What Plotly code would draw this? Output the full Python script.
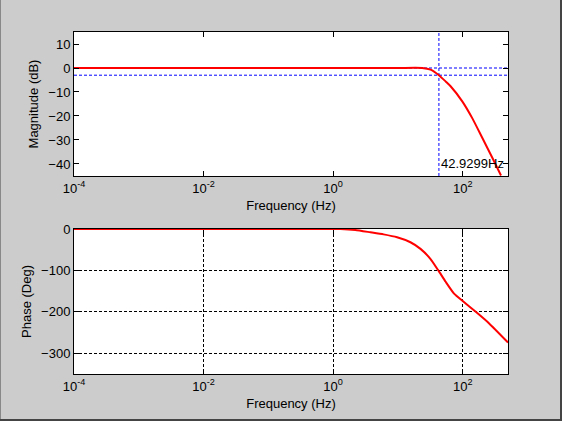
import math
import plotly.graph_objects as go

# Bode plot of the filter
cutoff_hz = 42.9299
freq_range = [1e-4, 500]

mag_freq = [1e-4, 1e-2, 1, 10, 23.7, 31.9, 42.93, 55, 65, 99, 141, 202, 289, 390]
mag_db = [0, 0, 0, 0, 0, -0.7, -3.0, -5.7, -7.6, -14.0, -21.0, -29.3, -37.6, -44.8]

phase_freq = [1e-4, 1e-2, 1, 1.3, 2.2, 3.75, 6.0, 9.7, 15.6, 22.3, 31.9, 42, 54.6, 73.5, 100,
              159, 256, 500]
phase_deg = [0, 0, 0, 0, -2.4, -8, -13, -20, -32, -48, -72.6, -100, -127.5, -156, -174,
             -200, -228, -274]

mag_ticks = [10, 0, -10, -20, -30, -40]
phase_ticks = [0, -100, -200, -300]
freq_ticks = [1e-4, 1e-2, 1, 100]
freq_labels = ['10<sup>-4</sup>', '10<sup>-2</sup>', '10<sup>0</sup>', '10<sup>2</sup>']

font = dict(family='Liberation Sans, Arial', size=13, color='black')
dash = '3px,2px'

# plot area in pixels: x 74..508, y 32..374
ml, mr, mt, mb = 74, 54, 32, 47
pw, ph = 562 - ml - mr, 421 - mt - mb

fig = go.Figure()

# guide lines for the -3 dB point
fig.add_trace(go.Scatter(x=[cutoff_hz, cutoff_hz], y=[-45, 15], mode='lines',
                         line=dict(color='blue', width=1, dash=dash), xaxis='x', yaxis='y'))
fig.add_trace(go.Scatter(x=freq_range, y=[0, 0], mode='lines',
                         line=dict(color='blue', width=1, dash=dash), xaxis='x', yaxis='y'))
fig.add_trace(go.Scatter(x=freq_range, y=[-3, -3], mode='lines',
                         line=dict(color='blue', width=1, dash=dash), xaxis='x', yaxis='y'))

fig.add_trace(go.Scatter(x=mag_freq, y=mag_db, mode='lines',
                         line=dict(color='red', width=2, shape='spline', smoothing=0.6),
                         xaxis='x', yaxis='y'))
fig.add_trace(go.Scatter(x=phase_freq, y=phase_deg, mode='lines', cliponaxis=False,
                         line=dict(color='red', width=2, shape='spline', smoothing=0.5),
                         xaxis='x2', yaxis='y2'))

xcommon = dict(type='log', range=[-4, math.log10(500)], tickvals=freq_ticks, ticktext=freq_labels,
               ticks='inside', ticklen=5, tickcolor='black', showline=True, linecolor='black',
               linewidth=1, mirror='allticks', zeroline=False, tickfont=font, automargin=False,
               title=dict(text='Frequency (Hz)', font=font, standoff=6))

ycommon = dict(ticks='inside', ticklen=5, tickcolor='black', showline=True, linecolor='black',
               linewidth=1, mirror='allticks', zeroline=False, tickfont=font, automargin=False)

fig.update_layout(
    width=562, height=421,
    margin=dict(l=ml, r=mr, t=mt, b=mb),
    paper_bgcolor='#cccccc', plot_bgcolor='white',
    showlegend=False, font=font,
    xaxis=dict(xcommon, anchor='y', showgrid=False),
    yaxis=dict(ycommon, range=[-45, 15], tickvals=mag_ticks, domain=[0.579, 1], anchor='x',
               showgrid=False, title=dict(text='Magnitude (dB)', font=font, standoff=6)),
    xaxis2=dict(xcommon, anchor='y2', showgrid=True, gridcolor='black', griddash=dash, gridwidth=1,
                layer='below traces'),
    yaxis2=dict(ycommon, range=[-350, 0], tickvals=phase_ticks, domain=[0, 0.424], anchor='x2',
                showgrid=True, gridcolor='black', griddash=dash, gridwidth=1, layer='below traces',
                title=dict(text='Phase (Deg)', font=font, standoff=6)),
)

fig.add_annotation(x=math.log10(cutoff_hz), y=-40, xref='x', yref='y',
                   text='%.4fHz' % cutoff_hz, showarrow=False, xanchor='left', yanchor='middle',
                   xshift=0, font=font)

# window frame
def px(x):
    return (x - ml) / pw

def py(y):
    return (421 - mb - y) / ph

fig.add_shape(type='line', xref='paper', yref='paper', x0=px(0.5), x1=px(0.5), y0=py(0), y1=py(421),
              line=dict(color='#888888', width=1))
fig.add_shape(type='line', xref='paper', yref='paper', x0=px(561), x1=px(561), y0=py(0), y1=py(421),
              line=dict(color='#444444', width=2))
fig.add_shape(type='line', xref='paper', yref='paper', x0=px(0), x1=px(562), y0=py(420), y1=py(420),
              line=dict(color='#444444', width=2))

# page has a default body margin; drop it so the figure fills the window
fig.write_html("out.html", config={'displayModeBar': False},
               post_script="document.body.style.margin='0';document.body.style.overflow='hidden';")
